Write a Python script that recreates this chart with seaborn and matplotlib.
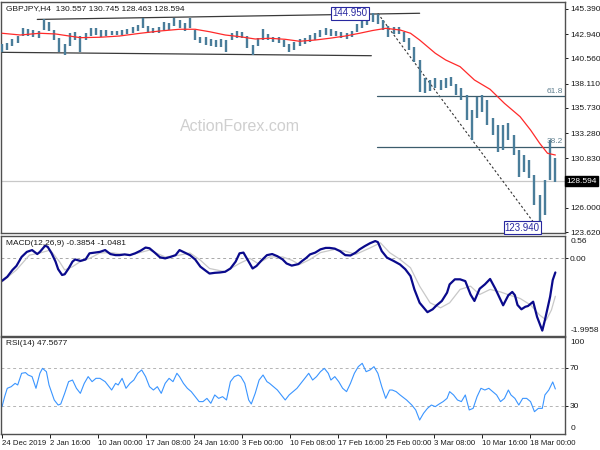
import numpy as np
import seaborn as sns
import matplotlib
matplotlib.use("Agg")
import matplotlib.pyplot as plt

sns.set_theme(style="white")
plt.rcParams['font.family'] = ['Liberation Sans', 'DejaVu Sans']

# price samples, every 4th H4 bar
bar_high = [141.97, 142.07, 142.46, 142.75, 143.54, 143.44, 143.34, 143.24, 144.41, 144.12,
            143.34, 142.56, 141.97, 143.05, 143.15, 142.75, 143.05, 143.54, 143.54, 143.34,
            143.34, 143.24, 143.24, 143.34, 143.44, 143.63, 143.83, 144.51, 143.73, 143.54,
            143.63, 144.12, 144.02, 144.51, 144.32, 144.02, 144.51, 143.34, 142.66, 142.66,
            142.46, 142.36, 142.46, 142.36, 143.05, 143.24, 143.15, 142.75, 141.88, 142.56,
            143.44, 142.95, 142.66, 142.66, 142.36, 141.97, 142.17, 142.46, 142.56, 142.85,
            143.05, 143.34, 143.54, 143.44, 143.24, 143.15, 143.05, 143.24, 143.93, 144.32,
            144.71, 144.95, 144.90, 144.32, 143.73, 143.63, 143.63, 143.15, 142.56, 141.68,
            140.41, 138.66, 138.46, 138.66, 138.46, 138.66, 138.75, 138.07, 137.68, 137.00,
            135.53, 136.80, 137.00, 136.51, 134.75, 134.07, 134.07, 134.27, 133.09, 131.63,
            131.14, 130.65, 129.19, 127.24, 128.70, 132.60, 130.85]
bar_low = [141.19, 141.39, 141.78, 142.07, 142.75, 142.75, 142.66, 142.56, 143.34, 143.24,
           142.36, 141.19, 140.90, 141.78, 142.36, 141.19, 142.36, 142.75, 142.85, 142.66,
           142.75, 142.85, 142.85, 142.85, 142.95, 143.05, 143.24, 143.54, 143.05, 143.05,
           143.05, 143.34, 143.34, 143.73, 143.54, 143.24, 143.54, 142.36, 142.07, 141.88,
           141.78, 141.68, 141.68, 141.19, 142.36, 142.56, 142.56, 141.58, 140.90, 141.78,
           142.36, 142.36, 142.17, 142.07, 141.68, 141.19, 141.39, 141.78, 141.97, 142.17,
           142.36, 142.66, 142.85, 142.75, 142.75, 142.56, 142.46, 142.66, 143.15, 143.54,
           143.83, 144.12, 143.93, 143.34, 142.66, 142.95, 142.95, 142.17, 141.39, 140.22,
           137.29, 137.19, 137.39, 137.68, 137.48, 137.68, 137.87, 137.00, 136.51, 134.55,
           132.60, 134.75, 135.34, 134.07, 133.09, 131.43, 131.63, 132.60, 131.14, 128.99,
           129.48, 128.89, 126.26, 123.94, 125.28, 128.70, 128.50]
last_price = 128.594

# moving average (red)
ma_x = [0, 14, 29, 41, 60, 75, 90, 106, 121, 136, 148, 159, 171, 182, 194, 205, 217, 228, 240, 251,
        263, 274, 284, 294, 305, 313, 320, 332, 340, 351, 362, 374, 385, 397, 405, 412, 418, 424]
ma_y = [143.02, 142.85, 143.02, 142.95, 142.59, 142.63, 142.75, 143.02, 143.24, 143.41,
        143.41, 143.17, 142.85, 142.69, 142.46, 142.53, 142.43, 142.24, 142.36, 142.53,
        142.75, 143.02, 143.29, 143.50, 143.34, 143.02, 142.36, 141.07, 140.41, 139.76,
        138.46, 137.55, 136.18, 134.88, 133.58, 132.28, 131.31, 131.14]

# channel, trend line and fibonacci
chan_top_x, chan_top_y = [27, 320], [144.37, 144.97]
chan_bot_x, chan_bot_y = [0, 283], [141.16, 140.83]
swing_x, swing_y = [288, 411], [144.95, 123.94]
fib_levels = [131.97, 136.92]
fib_names = ['38.2', '61.8']

# MACD
macd_x = [0, 4, 8, 11, 15, 19, 23, 27, 29, 33, 35, 38, 41, 43, 46, 48, 51, 54, 56, 60,
          64, 67, 71, 75, 79, 83, 87, 90, 94, 98, 102, 106, 110, 113, 117, 121, 125, 129, 133, 136,
          140, 144, 148, 152, 156, 159, 163, 167, 171, 175, 179, 182, 185, 189, 192, 195, 199, 203, 207, 211,
          215, 218, 222, 227, 230, 233, 236, 240, 244, 248, 251, 255, 259, 263, 267, 271, 274, 278, 282, 286,
          288, 291, 295, 300, 305, 309, 313, 316, 320, 326, 330, 333, 337, 341, 343, 347, 351, 355, 359, 362,
          366, 370, 374, 378, 384, 388, 391, 393, 395, 398, 401, 403, 407, 410, 414, 416, 420, 422, 424]
macd_y = [-0.62, -0.51, -0.32, -0.21, 0.04, 0.18, 0.23, 0.12, 0.18, 0.35,
          0.32, 0.14, -0.09, -0.30, -0.46, -0.44, -0.28, -0.09, -0.03, -0.07,
          -0.03, 0.14, 0.16, 0.18, 0.23, 0.12, 0.09, 0.09, 0.11, 0.09,
          0.14, 0.21, 0.30, 0.28, 0.16, 0.03, 0.00, 0.04, 0.09, 0.23,
          0.16, 0.09, -0.03, -0.23, -0.34, -0.42, -0.40, -0.39, -0.37, -0.28,
          -0.09, 0.14, 0.16, -0.09, -0.28, -0.21, -0.05, 0.09, 0.12, 0.06,
          -0.03, -0.14, -0.20, -0.16, -0.07, 0.01, 0.11, 0.16, 0.25, 0.29,
          0.29, 0.27, 0.20, 0.09, 0.08, 0.16, 0.25, 0.34, 0.42, 0.48,
          0.45, 0.20, 0.02, -0.07, -0.17, -0.30, -0.49, -0.86, -1.23, -1.49,
          -1.41, -1.30, -1.18, -0.95, -0.72, -0.58, -0.58, -0.63, -1.00, -1.18,
          -0.84, -0.72, -0.57, -0.84, -1.30, -1.02, -0.93, -1.02, -1.29, -1.41,
          -1.34, -1.32, -1.20, -1.62, -2.00, -1.71, -1.06, -0.60, -0.39]
sig_x = [0, 11, 21, 29, 37, 44, 48, 54, 60, 67, 75, 83, 98, 113, 125, 136, 144, 152, 159, 171,
         182, 190, 196, 205, 215, 222, 228, 236, 244, 255, 263, 271, 282, 290, 297, 305, 313, 320, 328, 336,
         343, 351, 359, 366, 374, 382, 389, 397, 405, 412, 417, 421, 424]
sig_y = [-0.65, -0.32, 0.09, 0.15, 0.23, -0.09, -0.32, -0.23, -0.09, 0.00,
         0.15, 0.16, 0.09, 0.23, 0.04, 0.09, 0.15, -0.05, -0.28, -0.37,
         -0.14, 0.00, -0.14, 0.04, 0.04, -0.05, -0.17, -0.03, 0.16, 0.25,
         0.20, 0.11, 0.29, 0.43, 0.16, -0.03, -0.26, -0.77, -1.23, -1.37,
         -1.23, -0.86, -0.77, -1.00, -0.86, -0.93, -1.02, -1.11, -1.29, -1.57,
         -1.71, -1.43, -1.05]

# RSI(14)
rsi_x = [0, 2, 4, 7, 10, 12, 15, 18, 20, 23, 26, 29, 31, 34, 36, 40, 43, 45, 48, 51,
         54, 57, 60, 63, 66, 69, 72, 75, 79, 84, 87, 89, 92, 95, 98, 101, 104, 107, 110, 113,
         116, 119, 122, 125, 128, 131, 134, 136, 139, 142, 145, 148, 151, 154, 157, 160, 163, 166, 169, 172,
         175, 178, 181, 183, 186, 189, 191, 194, 197, 200, 203, 205, 208, 211, 214, 217, 220, 223, 226, 229,
         232, 235, 238, 241, 244, 247, 250, 252, 255, 258, 261, 264, 267, 270, 273, 276, 279, 282, 285, 288,
         291, 294, 297, 299, 302, 305, 310, 314, 317, 320, 323, 326, 329, 332, 335, 338, 341, 343, 346, 349,
         352, 355, 358, 361, 364, 367, 370, 373, 376, 379, 382, 385, 388, 390, 393, 396, 399, 402, 405, 408,
         411, 414, 416, 419, 422, 424]
rsi_y = [29.0, 39.5, 48.3, 50.0, 53.5, 51.8, 64.1, 64.8, 62.3, 60.6,
         48.3, 64.1, 69.3, 65.8, 51.8, 36.0, 30.7, 31.8, 43.0, 55.3,
         57.0, 48.3, 43.0, 53.5, 60.6, 55.3, 58.8, 58.8, 55.3, 46.5,
         53.5, 51.8, 58.8, 48.3, 53.5, 57.0, 64.1, 67.6, 60.6, 50.0,
         46.5, 50.0, 43.0, 53.5, 58.8, 55.3, 64.1, 60.6, 53.5, 48.3,
         44.8, 39.5, 34.3, 34.3, 37.7, 32.5, 41.3, 37.7, 39.5, 36.0,
         55.3, 60.6, 62.3, 60.6, 53.5, 36.0, 31.8, 43.0, 57.0, 62.3,
         55.3, 53.5, 50.0, 46.5, 41.3, 36.0, 41.3, 44.8, 48.3, 53.5,
         58.8, 64.1, 57.0, 60.6, 65.8, 69.3, 64.1, 57.0, 60.6, 55.3,
         48.3, 44.8, 53.5, 64.1, 71.1, 74.6, 65.8, 67.6, 71.1, 64.1,
         50.0, 37.7, 46.5, 46.5, 44.8, 41.3, 36.0, 30.7, 25.5, 14.9,
         22.0, 27.2, 30.7, 29.0, 31.8, 34.3, 37.7, 44.8, 41.3, 36.0,
         34.3, 41.3, 25.5, 27.2, 39.5, 48.3, 46.5, 48.3, 44.8, 41.3,
         34.3, 37.7, 46.5, 41.3, 37.7, 30.7, 37.7, 37.7, 34.3, 23.7,
         27.2, 27.2, 41.3, 46.5, 55.0, 47.6]

time_labels = ['24 Dec 2019', '2 Jan 16:00', '10 Jan 00:00', '17 Jan 08:00', '24 Jan 16:00',
               '3 Feb 00:00', '10 Feb 08:00', '17 Feb 16:00', '25 Feb 00:00', '3 Mar 08:00',
               '10 Mar 16:00', '18 Mar 00:00']
price_ticks = [145.39, 142.94, 140.56, 138.11, 135.73, 133.28, 130.83, 126.0, 123.62]

W, H = 600, 450
fig = plt.figure(figsize=(6, 4.5), dpi=100)


def box(l, t, r, b):
    return [l / W, 1 - b / H, (r - l) / W, (b - t) / H]


ax1 = fig.add_axes(box(1, 2, 565, 233))
ax2 = fig.add_axes(box(1, 236, 565, 336), sharex=ax1)
ax3 = fig.add_axes(box(1, 337, 565, 434), sharex=ax1)

fs = 6.0
txt = '#1a1a1a'
for ax in (ax1, ax2, ax3):
    ax.set_facecolor('white')
    for s in ax.spines.values():
        s.set_color('#505050')
        s.set_linewidth(1.0)
    ax.yaxis.tick_right()
    ax.tick_params(axis='y', which='both', right=True, left=False, direction='out',
                   length=2.5, width=0.7, pad=1.0, labelsize=fs, colors=txt)
    ax.tick_params(axis='x', bottom=False, labelbottom=False)
    ax.grid(False)

# ---- price panel ----
bar_x = np.arange(len(bar_high)) * 4
ax1.axhline(last_price, color='#c8c8c8', lw=0.9, zorder=1)
ax1.vlines(bar_x, bar_low, bar_high, color='#4a7d9a', lw=1.7, zorder=3)
sns.lineplot(x=ma_x, y=ma_y, ax=ax1, color='#ff2a2a', linewidth=0.9, estimator=None, sort=False, zorder=4)
ax1.plot(chan_top_x, chan_top_y, color='#3a3a3a', lw=0.9, zorder=2)
ax1.plot(chan_bot_x, chan_bot_y, color='#3a3a3a', lw=0.9, zorder=2)
ax1.plot(swing_x, swing_y, color='#333333', lw=0.8, ls=(0, (2, 2)), zorder=2)
for lvl, name in zip(fib_levels, fib_names):
    ax1.plot([287, 432], [lvl, lvl], color='#3c5c6c', lw=0.9, zorder=2)
    ax1.text(430, lvl + 0.1, name, ha='right', va='bottom', fontsize=fs, color='#5f7f8f')
ax1.text(280, 144.95, '144.950', ha='right', va='center', fontsize=7, color='#2828a0',
         bbox=dict(boxstyle='square,pad=0.12', fc='white', ec='#2828a0', lw=0.8), zorder=5)
ax1.text(412, 124.06, '123.940', ha='right', va='center', fontsize=7, color='#2828a0',
         bbox=dict(boxstyle='square,pad=0.12', fc='white', ec='#2828a0', lw=0.8), zorder=5)
ax1.text(0.424, 0.46, 'ActionForex.com', transform=ax1.transAxes, ha='center', va='center',
         fontsize=11.5, color='#cfcfcf', zorder=0)
ax1.text(0.008, 0.985, 'GBPJPY,H4  130.557 130.745 128.463 128.594', transform=ax1.transAxes,
         ha='left', va='top', fontsize=fs, color=txt)
ax1.set_ylim(123.53, 146.07)
ax1.set_yticks(price_ticks)
ax1.set_yticklabels(['%.3f' % v for v in price_ticks])
ax1.text(1.003, last_price, '%.3f' % last_price, transform=ax1.get_yaxis_transform(),
         ha='left', va='center', fontsize=fs, color='white',
         bbox=dict(boxstyle='square,pad=0.15', fc='black', ec='black'))

# ---- MACD panel ----
ax2.axhline(0, color='#a8a8a8', lw=0.7, ls=(0, (3, 3)))
sns.lineplot(x=sig_x, y=sig_y, ax=ax2, color='#c8c8c8', linewidth=0.9, estimator=None, sort=False)
sns.lineplot(x=macd_x, y=macd_y, ax=ax2, color='#0a0a8c', linewidth=1.6, estimator=None, sort=False)
ax2.set_ylim(-2.15, 0.62)
ax2.set_yticks([0.0])
ax2.set_yticklabels(['0.00'])
ax2.text(1.01, 0.985, '0.56', transform=ax2.transAxes, ha='left', va='top', fontsize=fs, color=txt)
ax2.text(1.01, 0.02, '-1.9958', transform=ax2.transAxes, ha='left', va='bottom', fontsize=fs, color=txt)
ax2.text(0.008, 0.96, 'MACD(12,26,9) -0.3854 -1.0481', transform=ax2.transAxes,
         ha='left', va='top', fontsize=fs, color=txt)

# ---- RSI panel ----
for lvl in (70, 30):
    ax3.axhline(lvl, color='#b4b4b4', lw=0.7, ls=(0, (3, 3)))
sns.lineplot(x=rsi_x, y=rsi_y, ax=ax3, color='#3a95ff', linewidth=0.8, estimator=None, sort=False)
ax3.set_ylim(0.2, 102.3)
ax3.set_yticks([70, 30])
ax3.set_yticklabels(['70', '30'])
ax3.text(1.01, 0.98, '100', transform=ax3.transAxes, ha='left', va='top', fontsize=fs, color=txt)
ax3.text(1.01, 0.02, '0', transform=ax3.transAxes, ha='left', va='bottom', fontsize=fs, color=txt)
ax3.text(0.008, 0.965, 'RSI(14) 47.5677', transform=ax3.transAxes,
         ha='left', va='top', fontsize=fs, color=txt)

ax3.set_xlim(-0.8, 431.4)
ax3.set_xticks(np.arange(len(time_labels)) * 36.8)
ax3.set_xticklabels(time_labels)
ax3.tick_params(axis='x', bottom=True, labelbottom=True, direction='out', length=3, width=0.7,
                pad=1.5, labelsize=5.6, colors=txt)
for lbl in ax3.get_xticklabels():
    lbl.set_ha('left')

for ax in (ax1, ax2, ax3):
    ax.set_xlabel('')
    ax.set_ylabel('')

fig.savefig('out.png', dpi=100)
